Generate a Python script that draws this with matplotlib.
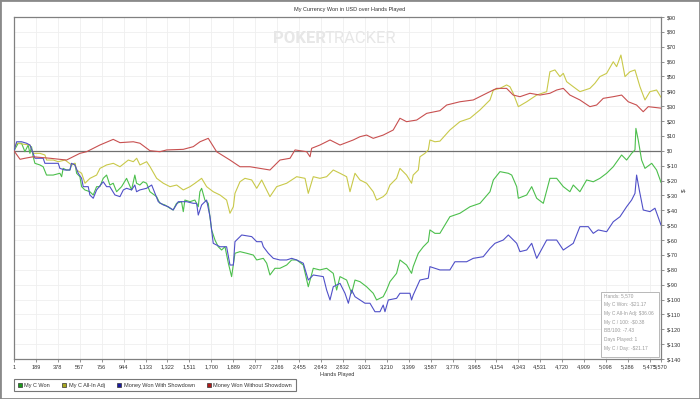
import matplotlib
matplotlib.use("Agg")
import matplotlib.pyplot as plt
from matplotlib.lines import Line2D
from matplotlib.patches import Rectangle
from matplotlib.ticker import FuncFormatter

plt.rcParams['font.family'] = ['Liberation Sans', 'DejaVu Sans']

# ---------------- data ----------------
won_hands = [1, 37, 66, 95, 123, 138, 152, 166, 181, 224, 252, 281, 338, 396, 411, 424, 453, 482, 496, 525,
             540, 568, 583, 611, 654, 683, 712, 740, 769, 798, 826, 855, 884, 927, 970, 1013, 1041, 1056,
             1084, 1113, 1142, 1171, 1228, 1257, 1300, 1343, 1371, 1400, 1443, 1458, 1472, 1515, 1558, 1587,
             1601, 1616, 1644, 1673, 1702, 1731, 1759, 1788, 1817, 1846, 1874, 1903, 1946, 2004, 2061, 2090,
             2147, 2176, 2204, 2247, 2290, 2348, 2391, 2434, 2491, 2534, 2577, 2634, 2692, 2749, 2778, 2807,
             2864, 2907, 2936, 2979, 3036, 3093, 3122, 3179, 3208, 3237, 3294, 3323, 3380, 3423, 3437, 3481,
             3524, 3567, 3581, 3624, 3667, 3753, 3839, 3926, 4012, 4098, 4127, 4184, 4256, 4285, 4328, 4342,
             4414, 4457, 4500, 4557, 4614, 4672, 4729, 4786, 4815, 4872, 4930, 4987, 5044, 5102, 5159, 5231,
             5274, 5317, 5346, 5354, 5374, 5403, 5432, 5490, 5532, 5570]
won_values = [0, 5.1, 5.1, -0.6, 3.9, -1.7, 2.8, -4.0, -8.4, -9.5, -10.7, -16.3, -16.3, -15.1, -17.4, -11.8,
              -12.9, -12.9, -9.5, -8.4, -15.1, -17.4, -24.1, -26.3, -27.5, -29.7, -24.1, -24.1, -18.5, -16.3,
              -23.0, -21.8, -27.5, -24.1, -18.5, -26.3, -16.3, -21.8, -23.0, -20.8, -21.8, -27.5, -30.8, -35.3,
              -36.4, -38.6, -39.8, -35.3, -34.2, -40.9, -33.1, -34.2, -33.1, -37.6, -27.5, -25.2, -33.1, -35.3,
              -53.2, -60.0, -64.5, -66.7, -64.5, -75.6, -84.6, -68.9, -67.8, -68.9, -70.1, -73.4, -72.3, -75.6,
              -83.5, -79.0, -79.0, -76.8, -73.4, -73.4, -76.8, -91.4, -79.0, -80.1, -79.0, -82.4, -93.6, -84.6,
              -86.9, -95.8, -86.9, -88.0, -91.4, -95.8, -100.3, -98.1, -93.6, -88.0, -82.4, -73.4, -76.8, -82.4,
              -77.9, -68.9, -64.5, -61.1, -53.2, -55.5, -55.5, -44.3, -42.0, -37.6, -35.3, -27.5, -19.6, -14.0,
              -15.1, -16.3, -24.1, -31.9, -29.7, -24.1, -31.9, -35.3, -18.5, -18.5, -24.1, -27.5, -23.0, -27.5,
              -19.6, -20.8, -18.5, -15.1, -10.7, -2.8, -6.2, -1.7, 0.6, 15.1, 7.3, -6.2, -11.8, -8.4, -12.9,
              -21.17]

allin_hands = [1, 24, 138, 166, 224, 267, 282, 339, 382, 440, 497, 526, 540, 583, 612, 655, 712, 741, 798,
               856, 913, 985, 1028, 1057, 1085, 1143, 1172, 1229, 1286, 1344, 1401, 1458, 1516, 1559, 1616,
               1659, 1716, 1774, 1831, 1860, 1889, 1903, 1946, 1989, 2047, 2090, 2133, 2161, 2204, 2262, 2348,
               2391, 2434, 2506, 2534, 2577, 2634, 2692, 2749, 2807, 2864, 2893, 2936, 2979, 3036, 3093, 3122,
               3179, 3208, 3237, 3294, 3323, 3380, 3423, 3437, 3481, 3495, 3538, 3567, 3581, 3624, 3667, 3753,
               3839, 3926, 4012, 4098, 4127, 4184, 4241, 4270, 4298, 4342, 4414, 4500, 4586, 4614, 4657, 4700,
               4729, 4758, 4815, 4872, 4958, 5001, 5044, 5102, 5159, 5188, 5225, 5260, 5303, 5346, 5389, 5432,
               5475, 5532, 5570]
allin_values = [0, 5.1, 3.9, -1.7, -1.7, -2.8, -6.2, -6.2, -7.3, -6.2, -9.5, -8.4, -12.9, -15.1, -21.8, -18.5,
                -16.3, -11.8, -9.5, -8.4, -10.7, -6.2, -7.3, -5.0, -9.5, -7.3, -10.7, -18.5, -21.8, -24.1,
                -23.0, -26.3, -24.1, -21.8, -18.5, -24.1, -27.5, -29.7, -33.1, -42.0, -37.6, -28.6, -20.8,
                -18.5, -19.6, -25.2, -19.6, -24.1, -30.8, -24.1, -21.8, -19.6, -17.4, -18.5, -28.6, -17.4,
                -18.5, -17.4, -12.9, -15.1, -17.4, -27.5, -15.1, -19.6, -21.8, -27.5, -33.1, -30.8, -28.6,
                -23.0, -18.5, -11.8, -16.3, -21.8, -16.3, -12.9, -4.0, -1.7, 0.6, 7.3, 6.1, 6.5, 14.0, 19.6,
                21.9, 27.5, 34.2, 40.9, 42.0, 44.3, 43.1, 38.7, 29.7, 33.0, 37.5, 39.8, 53.2, 54.4, 49.9, 52.1,
                46.5, 43.1, 39.8, 42.0, 45.4, 49.9, 52.1, 59.9, 56.6, 64.4, 49.9, 53.2, 54.4, 43.1, 34.2, 39.8,
                40.9, 36.06]

sd_hands = [1, 24, 66, 109, 138, 166, 181, 252, 267, 382, 396, 439, 482, 496, 525, 554, 583, 597, 640, 654,
            683, 712, 769, 798, 826, 870, 913, 942, 970, 1013, 1041, 1056, 1084, 1142, 1186, 1214, 1243, 1286,
            1329, 1371, 1415, 1487, 1544, 1573, 1587, 1616, 1659, 1688, 1716, 1774, 1831, 1860, 1889, 1903,
            1961, 2047, 2090, 2133, 2147, 2190, 2233, 2290, 2348, 2391, 2434, 2491, 2534, 2577, 2663, 2692,
            2721, 2749, 2807, 2850, 2879, 2907, 2936, 2979, 3022, 3065, 3108, 3151, 3179, 3194, 3223, 3294,
            3323, 3409, 3423, 3437, 3495, 3567, 3581, 3667, 3753, 3796, 3897, 3954, 4040, 4098, 4141, 4212,
            4256, 4328, 4356, 4414, 4457, 4500, 4586, 4672, 4729, 4815, 4872, 4944, 4987, 5030, 5102, 5159,
            5217, 5274, 5317, 5346, 5360, 5383, 5417, 5475, 5518, 5570]
sd_values = [0, 6.1, 6.1, 5.1, 3.9, -1.7, -5.0, -5.0, -8.4, -8.4, -11.8, -12.9, -12.9, -8.4, -9.5, -15.1,
             -18.5, -24.1, -24.1, -29.7, -31.9, -26.3, -20.8, -24.1, -24.1, -29.7, -30.8, -26.3, -25.2, -26.3,
             -23.0, -27.5, -26.3, -25.2, -23.0, -28.6, -34.2, -36.4, -37.6, -39.8, -34.2, -34.2, -35.3, -35.3,
             -43.2, -36.4, -33.1, -44.3, -62.2, -64.5, -64.5, -76.8, -76.8, -61.1, -56.6, -57.7, -61.1, -61.1,
             -64.5, -68.9, -72.3, -73.4, -73.4, -72.3, -73.4, -75.6, -86.9, -83.5, -84.6, -93.6, -100.3, -91.4,
             -89.1, -95.8, -102.5, -93.6, -98.1, -100.3, -102.5, -102.5, -108.2, -108.2, -103.7, -108.2,
             -100.3, -99.2, -95.8, -95.8, -100.3, -97.0, -86.9, -85.7, -77.9, -80.1, -80.1, -74.6, -74.6,
             -72.3, -71.2, -65.6, -62.2, -60.0, -56.6, -62.2, -67.8, -66.7, -62.2, -72.3, -60.0, -60.0, -66.7,
             -62.2, -51.0, -51.0, -55.5, -53.2, -54.4, -47.7, -44.3, -37.6, -33.1, -28.6, -16.3, -26.3, -39.8,
             -40.9, -38.6, -49.9]

nsd_hands = [1, 53, 95, 166, 311, 453, 568, 626, 740, 855, 913, 1028, 1085, 1171, 1257, 1315, 1458, 1544,
             1602, 1673, 1745, 1860, 1946, 2032, 2118, 2204, 2290, 2377, 2420, 2520, 2549, 2563, 2634, 2721,
             2807, 2921, 2979, 3036, 3093, 3179, 3265, 3323, 3380, 3467, 3553, 3667, 3725, 3839, 3954, 4069,
             4155, 4241, 4298, 4356, 4442, 4528, 4614, 4672, 4729, 4786, 4872, 4958, 5016, 5073, 5159, 5231,
             5288, 5360, 5417, 5460, 5570]
nsd_values = [0, -5.7, -5.0, -4.0, -5.0, -6.2, -1.7, -0.6, 3.9, 7.7, 5.5, 6.1, 5.1, 0.1, -0.6, 0.6, 1.0, 2.8,
              6.1, 8.4, -0.6, -6.2, -10.7, -10.7, -11.8, -12.9, -6.2, -5.0, 0.6, -0.6, -4.0, 1.7, 3.9, 7.3,
              3.9, 7.3, 9.5, 10.6, 8.4, 10.6, 14.0, 21.9, 19.6, 20.7, 25.2, 27.0, 30.8, 33.0, 34.2, 38.7, 42.0,
              42.0, 37.5, 36.4, 38.7, 37.5, 38.7, 40.9, 42.0, 37.5, 34.2, 29.7, 30.8, 35.3, 36.4, 37.5, 33.0,
              30.8, 26.3, 29.7, 28.7]

series_names = ["My C Won", "My C All-In Adj", "Money Won With Showdown", "Money Won Without Showdown"]
x_tick_labels = ["1", "189", "378", "567", "756", "944", "1,133", "1,322", "1,511", "1,700", "1,889",
                 "2,077", "2,266", "2,455", "2,643", "2,832", "3,021", "3,210", "3,399", "3,587", "3,776",
                 "3,965", "4,154", "4,343", "4,531", "4,720", "4,909", "5,098", "5,286", "5,475", "5,570"]
y_ticks = list(range(-140, 91, 10))
stats_lines = ["Hands: 5,570", "My C Won: -$21.17", "My C All-In Adj: $36.06", "My C / 100: -$0.38",
               "BB/100: -7.43", "Days Played: 1", "My C / Day: -$21.17"]

# ---------------- styling ----------------
line_colors = ["#4cbf4c", "#c9c94a", "#5050c8", "#c85050"]
marker_colors = ["#1a9a1a", "#a8a820", "#1a1aa0", "#b01a1a"]
W, H = 700, 399

fig = plt.figure(figsize=(W / 100, H / 100), dpi=100)
fig.patch.set_facecolor("white")
ax = fig.add_axes([14 / W, 1 - 359 / H, 647 / W, 342 / H])

for hands, vals, col in zip([won_hands, allin_hands, sd_hands, nsd_hands],
                            [won_values, allin_values, sd_values, nsd_values], line_colors):
    ax.plot(hands, vals, color=col, lw=0.8, zorder=3)

ax.axhline(0, color="#707070", lw=0.9, zorder=2)

ax.set_xlim(1, 5570)
ax.set_ylim(-140, 90)
xt = [int(s.replace(",", "")) for s in x_tick_labels]
ax.set_xticks(xt)
ax.set_xticklabels(x_tick_labels)
ax.set_yticks(y_ticks)
ax.yaxis.tick_right()
ax.yaxis.set_major_formatter(FuncFormatter(lambda v, p: f"${int(v)}"))
ax.grid(True, color="#efefef", lw=0.6, zorder=0)
ax.tick_params(axis="both", labelsize=4, colors="#808080", labelcolor="#333333",
               length=2.5, width=0.6, pad=1.5)
for sp in ax.spines.values():
    sp.set_color("#808080")
    sp.set_linewidth(0.9)
ax.set_xlabel("Hands Played", fontsize=4, color="#333333", labelpad=1.5)

# figure border and title
fig.patches.append(Rectangle((0, 0), 1, 1, transform=fig.transFigure, fill=False,
                             edgecolor="#8a8a8a", lw=2.0, zorder=10))
fig.text(0.5, 1 - 9 / H, "My Currency Won in USD over Hands Played", ha="center", va="center",
         fontsize=4, color="#333333")
fig.text(684 / W, 1 - 190 / H, "$", rotation=90, ha="center", va="center", fontsize=4.5, color="#333333")

# watermark
fig.text(273 / W, 1 - 38.5 / H, "POKER", fontsize=12, fontweight="bold", family=["Roboto", "DejaVu Sans"],
         color="#e7e7e7", ha="left", va="center", zorder=1)
fig.text(325 / W, 1 - 38.5 / H, "TRACKER", fontsize=12, family=["Roboto", "DejaVu Sans"],
         color="#e7e7e7", ha="left", va="center", zorder=1)

# stats box
fig.patches.append(Rectangle((601 / W, 1 - 356.5 / H), 57.5 / W, 64.5 / H, transform=fig.transFigure,
                             facecolor="white", edgecolor="#b8b8b8", lw=0.7, zorder=5))
for i, s in enumerate(stats_lines):
    fig.text(604 / W, 1 - (296 + i * 8.7) / H, s, fontsize=3.5, color="#9a9a9a", ha="left", va="center",
             zorder=6)

# legend
handles = [Line2D([], [], ls="none", marker="s", markersize=3.2, markerfacecolor=c,
                  markeredgecolor="#333333", markeredgewidth=0.5) for c in marker_colors]
leg = fig.legend(handles, series_names, loc="lower left", bbox_to_anchor=(14 / W, 1 - 391 / H), ncol=4,
                 fontsize=4, frameon=True, fancybox=False, handlelength=0.8, handletextpad=0.4,
                 columnspacing=2.2, borderpad=0.6, borderaxespad=0)
leg.get_frame().set_edgecolor("#555555")
leg.get_frame().set_linewidth(0.8)
for t in leg.get_texts():
    t.set_color("#333333")

fig.savefig("out.png", dpi=100)
